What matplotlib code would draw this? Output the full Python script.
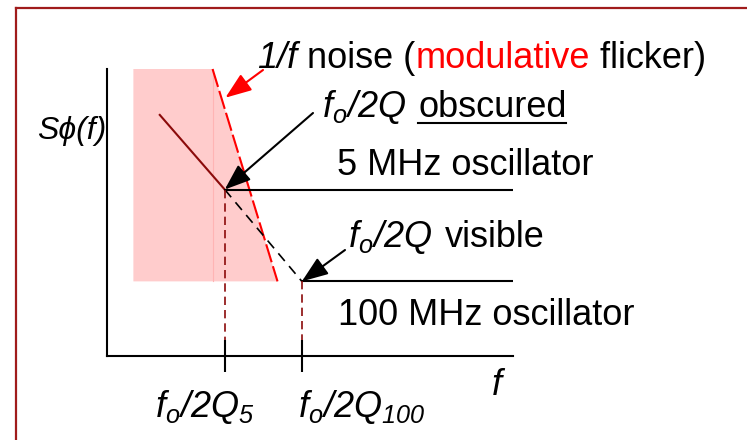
import numpy as np
import matplotlib
matplotlib.use('Agg')
import matplotlib.pyplot as plt
import matplotlib.transforms as mtransforms
from matplotlib.lines import Line2D

W, H = 747, 440

# schematic values (arbitrary log-f / log-S units, axes run 0..10)
f_corner = [2.9, 4.8]            # f0/2Q for the 5 MHz and 100 MHz resonators
floor_level = [5.8, 2.6]         # white phase-noise floors
oscillators = ['5 MHz oscillator', '100 MHz oscillator']
corner_labels = [r'$f_o/2Q_5$', r'$f_o/2Q_{100}$']
flicker_x = [2.6, 4.2]           # 1/f (modulative flicker) boundary
flicker_y = [10.0, 2.6]
shade_left = 0.65
slope_x = [1.3, 2.9]             # 5 MHz noise rising below f0/2Q
slope_y = [8.4, 5.8]
f_end = 10.0
tick_bottom = 0.55

plt.rcParams['font.family'] = ['Liberation Sans', 'DejaVu Sans']
plt.rcParams['mathtext.fontset'] = 'custom'
# all the maths in this slide is set in italic Arial, digits included
plt.rcParams['mathtext.it'] = 'Liberation Sans:italic'
plt.rcParams['mathtext.rm'] = 'Liberation Sans:italic'
plt.rcParams['mathtext.sf'] = 'Liberation Sans:italic'
plt.rcParams['mathtext.bf'] = 'Liberation Sans:bold'

FS = 26
DARKRED = '#8b0a0a'


def main():
    fig = plt.figure(figsize=(W / 100, H / 100), dpi=100)
    ax = fig.add_axes([107 / W, (H - 356) / H, 406 / W, 287 / H])
    ax.set_xlim(0, 10)
    ax.set_ylim(0, 10)
    for s in ['top', 'right']:
        ax.spines[s].set_visible(False)
    for s in ['left', 'bottom']:
        ax.spines[s].set_linewidth(1.5)
    ax.set_yticks([])
    ax.set_xticks(f_corner)
    ax.set_xticklabels([])
    ax.tick_params(axis='x', direction='inout', length=23, width=1.5)

    # pixel coords measured from top-left corner
    px = mtransforms.Affine2D().scale(1, -1).translate(0, H)

    # shaded flicker region
    ax.fill([shade_left, flicker_x[0], flicker_x[1], shade_left],
            [flicker_y[0], flicker_y[0], flicker_y[1], flicker_y[1]],
            color='#ffcccc', lw=0, clip_on=False)
    ax.plot([flicker_x[0], flicker_x[0]], flicker_y, color='#ffb4b4', lw=0.8)
    ax.plot(flicker_x, flicker_y, color='red', lw=1.5, ls=(0, (9, 2)), clip_on=False)

    ax.plot(slope_x, slope_y, color=DARKRED, lw=1.5)
    ax.plot(f_corner, floor_level, color='k', lw=1.2, ls=(0, (6, 4)))
    for fc, lvl in zip(f_corner, floor_level):
        ax.plot([fc, f_end], [lvl, lvl], color='k', lw=1.5)
        ax.plot([fc, fc], [lvl, tick_bottom], color=DARKRED, lw=1.2, ls=(0, (5, 3)))

    renderer = fig.canvas.get_renderer()

    # title line with coloured word
    pieces = [('1/f', 'k', 'italic'), (' noise (', 'k', 'normal'),
              ('modulative', 'red', 'normal'), (' flicker)', 'k', 'normal')]
    dx = 0
    for s, c, st in pieces:
        tr = px + mtransforms.Affine2D().translate(dx, 0)
        t = fig.text(257, 68, s, color=c, style=st, fontsize=FS, transform=tr, va='baseline')
        dx += t.get_window_extent(renderer).width

    fig.text(322, 117, r'$f_o/2Q$', fontsize=FS, transform=px, va='baseline')
    t = fig.text(418, 117, 'obscured', fontsize=FS, transform=px, va='baseline')
    b = t.get_window_extent(renderer)
    fig.add_artist(Line2D([b.x0, b.x1], [123, 123], transform=px, color='k', lw=1.5))

    fig.text(337, 175, oscillators[0], fontsize=FS, transform=px, va='baseline')
    fig.text(348, 247, r'$f_o/2Q$', fontsize=FS, transform=px, va='baseline')
    fig.text(445, 247, 'visible', fontsize=FS, transform=px, va='baseline')
    fig.text(338, 325, oscillators[1], fontsize=FS, transform=px, va='baseline')

    fig.text(37, 139, 'S\u03d5(f)', style='italic', fontsize=23, transform=px, va='baseline')
    fig.text(492, 395, 'f', style='italic', fontsize=FS, transform=px, va='baseline')
    fig.text(155, 417, corner_labels[0], fontsize=FS, transform=px, va='baseline')
    fig.text(298, 417, corner_labels[1], fontsize=FS, transform=px, va='baseline')

    # arrows
    head = '-|>,head_length=0.8,head_width=0.3'
    tip_y = 9.0
    tip_x = np.interp(tip_y, flicker_y[::-1], flicker_x[::-1]) + 0.1
    ax.annotate('', xy=(tip_x, tip_y), xytext=(263, 70), textcoords=px,
                arrowprops=dict(arrowstyle=head, mutation_scale=20, color='red', lw=1.5,
                                shrinkA=0, shrinkB=0), annotation_clip=False)
    ax.annotate('', xy=(f_corner[0], floor_level[0]), xytext=(313, 113), textcoords=px,
                arrowprops=dict(arrowstyle=head, mutation_scale=20, color='k', lw=1.5,
                                shrinkA=0, shrinkB=0), annotation_clip=False)
    ax.annotate('', xy=(f_corner[1], floor_level[1]), xytext=(345, 250), textcoords=px,
                arrowprops=dict(arrowstyle=head, mutation_scale=20, color='k', lw=1.5,
                                shrinkA=0, shrinkB=0), annotation_clip=False)

    # slide frame
    fig.add_artist(Line2D([16, W], [8, 8], transform=px, color='#a01c1c', lw=1.6))
    fig.add_artist(Line2D([16, 16], [8, H], transform=px, color='#a01c1c', lw=1.6))

    fig.savefig('out.png', dpi=100)


if __name__ == "__main__":
    main()
